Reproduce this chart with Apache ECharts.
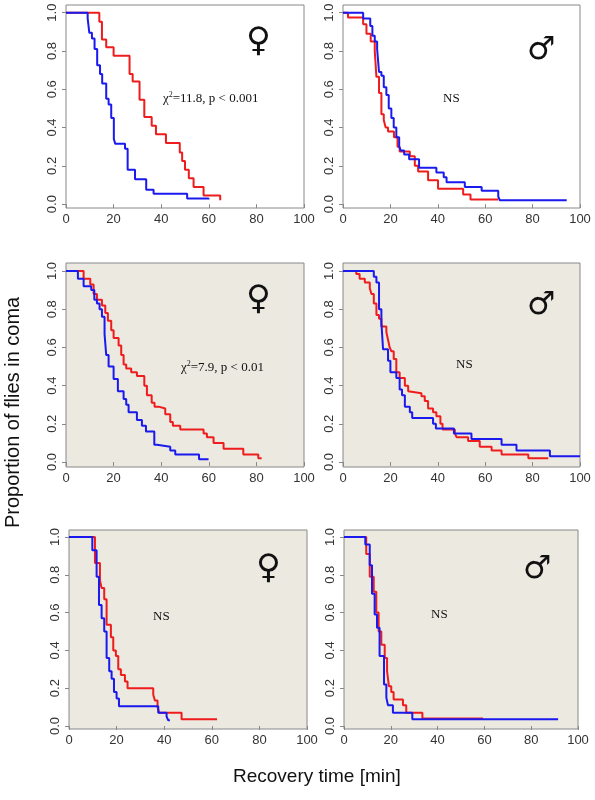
<!DOCTYPE html>
<html><head><meta charset="utf-8">
<script src="https://cdn.jsdelivr.net/npm/echarts@6/dist/echarts.min.js"></script>
<style>html,body{margin:0;padding:0;background:#fff}#c{width:595px;height:800px}</style>
</head><body><div id="c"></div>
<script>
// Kaplan-Meier steps: [time, proportion after time]
const f1Red=[[0,1],[14,0.953],[15.1,0.86],[16.9,0.82],[20,0.775],[26.7,0.68],[28,0.64],[30.9,0.545],[32.9,0.455],[36,0.41],[37.8,0.365],[42,0.32],[47.8,0.27],[48.8,0.225],[50,0.18],[51.6,0.135],[53.6,0.09],[57.8,0.045],[64.8,0.02]];
const f1Blue=[[0,1],[9.1,0.97],[9.8,0.895],[10.9,0.865],[12,0.81],[13.1,0.725],[14.3,0.68],[15.2,0.63],[16.9,0.55],[17.9,0.52],[19,0.45],[20.1,0.34],[20.7,0.315],[24.8,0.29],[25.9,0.18],[29,0.13],[33.7,0.075],[36.8,0.055],[50.9,0.03],[59.9,0.025]];
const m1Red=[[0,1],[2.1,0.975],[8.5,0.94],[9.9,0.89],[11.7,0.85],[13.4,0.8],[14.1,0.665],[15.2,0.58],[16.2,0.47],[17.2,0.44],[18,0.4],[19,0.38],[21.5,0.35],[23,0.3],[23.9,0.275],[28.2,0.25],[30.3,0.2],[31.7,0.17],[35.9,0.125],[40.1,0.08],[50.7,0.05],[53.8,0.025],[65.5,0.025]];
const m1Blue=[[0,1],[8.5,0.97],[11.5,0.93],[12.4,0.88],[13.4,0.85],[14.4,0.81],[15.2,0.69],[16.2,0.67],[17.2,0.61],[18.3,0.57],[19.3,0.5],[20.4,0.45],[21.4,0.4],[22.5,0.35],[23.7,0.3],[24.4,0.28],[25.8,0.26],[27.9,0.235],[32.1,0.19],[39.4,0.165],[42.5,0.14],[43.7,0.115],[51.4,0.09],[58.5,0.07],[65.5,0.04],[66.2,0.02],[94.4,0.02]];
const f2Red=[[0,1],[7.4,0.96],[10.2,0.93],[11.6,0.88],[13,0.85],[15.1,0.82],[16.5,0.78],[17.6,0.74],[19,0.69],[20,0.65],[22.1,0.61],[23.2,0.56],[24.2,0.51],[25.3,0.49],[27.4,0.47],[29.8,0.45],[32.9,0.4],[34,0.35],[36,0.31],[37.2,0.29],[38.9,0.28],[41.7,0.25],[43.8,0.21],[44.9,0.19],[48,0.17],[57.8,0.15],[59.2,0.13],[62,0.1],[66.2,0.07],[74.5,0.04],[80.8,0.02],[82.2,0.02]];
const f2Blue=[[0,1],[5,0.96],[7.4,0.92],[10.6,0.9],[11.9,0.85],[13,0.83],[14.1,0.8],[15.1,0.76],[16.2,0.67],[16.9,0.56],[17.9,0.5],[20,0.435],[21.8,0.37],[24.2,0.33],[25.3,0.3],[26.3,0.26],[29.8,0.22],[31.9,0.19],[33.6,0.16],[37.1,0.09],[38.2,0.08],[43.8,0.06],[45.9,0.04],[55.9,0.015],[59.9,0.015]];
const m2Red=[[0,1],[5.6,0.985],[7,0.96],[9.2,0.94],[11.3,0.91],[12,0.88],[13,0.83],[14.1,0.77],[15.2,0.75],[16.2,0.71],[18.3,0.68],[19,0.64],[19.7,0.6],[20.4,0.58],[21.4,0.54],[22.5,0.47],[23.9,0.44],[26.1,0.4],[27.5,0.37],[28.2,0.36],[33.1,0.345],[34.5,0.32],[35.9,0.28],[38,0.26],[39.4,0.24],[41.1,0.2],[42,0.17],[47.2,0.15],[47.9,0.13],[52.8,0.11],[57.7,0.08],[62.7,0.06],[66.9,0.04],[78.2,0.02],[86.6,0.02]];
const m2Blue=[[0,1],[13,0.97],[14.1,0.94],[15.2,0.8],[16.2,0.73],[16.9,0.59],[19,0.53],[20,0.47],[22.5,0.44],[23.9,0.38],[24.9,0.35],[26.1,0.29],[28.2,0.26],[29.2,0.23],[38,0.2],[39.2,0.175],[46.8,0.15],[54.2,0.12],[66.9,0.09],[73.2,0.06],[87.3,0.03],[100,0.03]];
const f3Red=[[0,1],[10.9,0.862],[13,0.77],[13.7,0.73],[14.8,0.67],[15.8,0.535],[17.6,0.47],[18.6,0.4],[19.7,0.37],[20.7,0.3],[21.8,0.27],[23.5,0.235],[24.6,0.2],[35.4,0.165],[36.1,0.135],[37.2,0.1],[37.9,0.07],[47.3,0.035],[62.2,0.035]];
const f3Blue=[[0,1],[9.8,0.93],[11.6,0.79],[12.6,0.64],[13.7,0.57],[14.8,0.5],[15.8,0.36],[16.9,0.29],[17.9,0.25],[18.9,0.18],[20,0.145],[21,0.105],[37.5,0.07],[41,0.05],[41.7,0.03],[42.4,0.03]];
const m3Red=[[0,1],[9.5,0.91],[11,0.79],[12.7,0.71],[13.8,0.6],[14.8,0.5],[15.95,0.43],[17.4,0.36],[18.4,0.29],[19.2,0.21],[20.2,0.18],[21.2,0.14],[25.2,0.11],[26.6,0.07],[33.5,0.04],[59.4,0.04]];
const m3Blue=[[0,1],[9.1,0.96],[11,0.85],[11.97,0.7],[13.1,0.59],[14.1,0.52],[15.2,0.37],[17.1,0.22],[18.1,0.15],[18.8,0.11],[20.9,0.07],[29.2,0.035],[91.5,0.035]];
const xTicks=[0,20,40,60,80,100];
const yTicks=[0,0.2,0.4,0.6,0.8,1.0];

const panels=[
 {red:f1Red,blue:f1Blue,l:66,w:238,t:5,h:203,ymin:-0.02,ymax:1.04,bg:'#ffffff'},
 {red:m1Red,blue:m1Blue,l:343,w:237,t:5,h:203,ymin:-0.02,ymax:1.04,bg:'#ffffff'},
 {red:f2Red,blue:f2Blue,l:66,w:238,t:263,h:204,ymin:-0.026,ymax:1.042,bg:'#ece9e1'},
 {red:m2Red,blue:m2Blue,l:343,w:237,t:263,h:204,ymin:-0.026,ymax:1.042,bg:'#ece9e1'},
 {red:f3Red,blue:f3Blue,l:69,w:238,t:530,h:199,ymin:-0.016,ymax:1.037,bg:'#ece9e1'},
 {red:m3Red,blue:m3Blue,l:344,w:234,t:530,h:199,ymin:-0.016,ymax:1.037,bg:'#ece9e1'}
];
const grid=[],xAxis=[],yAxis=[],series=[];
const axLab={color:'#333',fontSize:13,fontFamily:'Liberation Sans, Arial'};
panels.forEach((p,i)=>{
 grid.push({left:p.l,top:p.t,width:p.w,height:p.h,show:true,backgroundColor:p.bg,borderColor:'#888',borderWidth:1});
 xAxis.push({gridIndex:i,type:'value',min:0,max:100,position:'bottom',offset:0,
  axisLine:{show:false},splitLine:{show:false},
  axisTick:{show:true,customValues:xTicks,length:4,lineStyle:{color:'#888'}},
  axisLabel:Object.assign({customValues:xTicks,margin:5},axLab)});
 yAxis.push({gridIndex:i,type:'value',min:p.ymin,max:p.ymax,
  axisLine:{show:false},splitLine:{show:false},
  axisTick:{show:true,customValues:yTicks,length:4,lineStyle:{color:'#888'}},
  axisLabel:Object.assign({customValues:yTicks,rotate:90,margin:7,formatter:v=>v.toFixed(1)},axLab)});
 series.push({type:'line',xAxisIndex:i,yAxisIndex:i,step:'end',data:p.red,showSymbol:false,lineStyle:{color:'#ee1c1c',width:2},silent:true,z:2});
 series.push({type:'line',xAxisIndex:i,yAxisIndex:i,step:'end',data:p.blue,showSymbol:false,lineStyle:{color:'#1a1aee',width:2},silent:true,z:3});
});
const serif='Liberation Serif, Times New Roman, serif';
const sym='DejaVu Sans';
function txt(x,y,text,size,font){return {type:'text',left:x,top:y,style:{text:text,fontSize:size,fontFamily:font,fill:'#111'}};}
function chi(x,y,val){return {type:'text',left:x,top:y,style:{text:'{a|χ}{s|2}{a|'+val+'}',rich:{a:{fontSize:13,fontFamily:serif,fill:'#111'},s:{fontSize:8,fontFamily:serif,fill:'#111',verticalAlign:'top',padding:[0,0,8,0]}}}};}
const graphic=[
 txt(246,25,'♀',34,sym), txt(527,35,'♂',32,sym),
 txt(246,283,'♀',34,sym), txt(527,290,'♂',32,sym),
 txt(256,552,'♀',34,sym), txt(523,554,'♂',32,sym),
 chi(163,91,'=11.8, p < 0.001'), chi(181,360,'=7.9, p < 0.01'),
 txt(443,92,'NS',13,serif), txt(456,358,'NS',13,serif),
 txt(153,610,'NS',13,serif), txt(431,608,'NS',13,serif),
 {type:'text',left:233,top:767,style:{text:'Recovery time [min]',fontSize:19,fontFamily:'Liberation Sans, Arial',fill:'#111'}},
 {type:'text',x:3,y:528,rotation:Math.PI/2,style:{text:'Proportion of flies in coma',fontSize:20,fontFamily:'Liberation Sans, Arial',fill:'#111'}}
];
const chart=echarts.init(document.getElementById('c'));
chart.setOption({animation:false,grid,xAxis,yAxis,series,graphic});
</script></body></html>
